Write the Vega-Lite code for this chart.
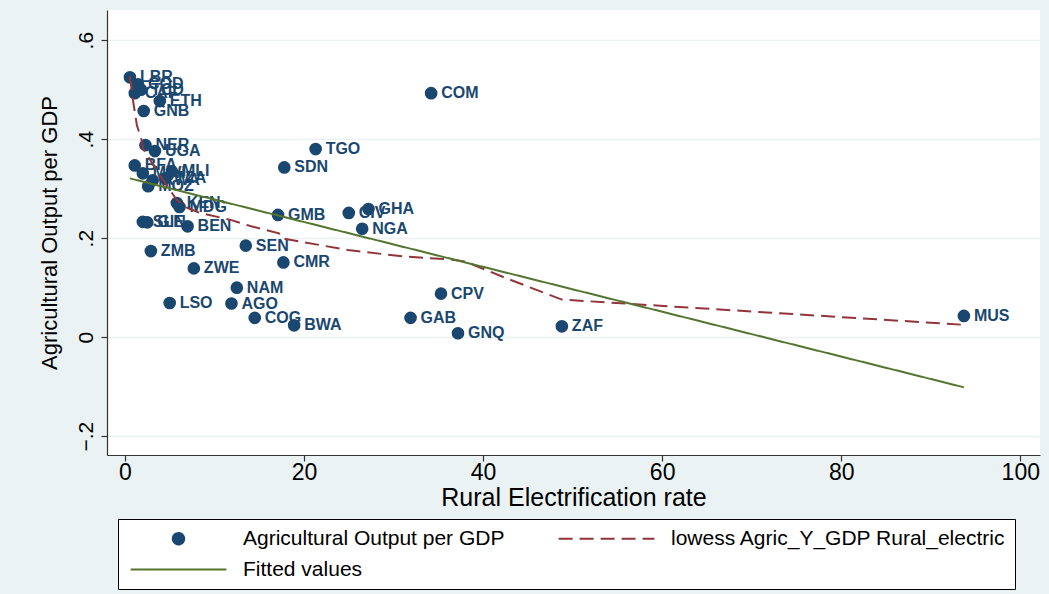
{
  "$schema": "https://vega.github.io/schema/vega-lite/v6.json",
  "width": 933,
  "height": 445,
  "autosize": "none",
  "padding": {"left": 107, "top": 10, "right": 9, "bottom": 139},
  "background": "#eaf2f3",
  "config": {
    "view": {"fill": "white", "stroke": null},
    "font": "Liberation Sans",
    "axis": {"domainColor": "#333333", "tickColor": "#333333", "labelColor": "#000000", "titleColor": "#000000", "titleFontWeight": "normal", "domainWidth": 1.2, "tickWidth": 1.2},
    "legend": {
      "orient": "none", "legendX": 11, "legendY": 509, "direction": "horizontal", "columns": 2,
      "fillColor": "white", "strokeColor": "#000000", "padding": 9,
      "symbolSize": 130, "symbolStrokeWidth": 2, "symbolOffset": 41, "labelFontSize": 21, "labelLimit": 500,
      "labelOffset": 54, "columnPadding": 43, "rowPadding": 9, "labelColor": "#000000", "symbolOpacity": 1
    }
  },
  "datasets": {
    "pts": [
      {"code": "LBR", "rural": 0.56, "agri": 0.525, "series": "Agricultural Output per  GDP"},
      {"code": "COD", "rural": 1.45, "agri": 0.511, "series": "Agricultural Output per  GDP"},
      {"code": "TCD", "rural": 1.8, "agri": 0.5, "series": "Agricultural Output per  GDP"},
      {"code": "CAF", "rural": 1.1, "agri": 0.493, "series": "Agricultural Output per  GDP"},
      {"code": "ETH", "rural": 3.9, "agri": 0.477, "series": "Agricultural Output per  GDP"},
      {"code": "GNB", "rural": 2.1, "agri": 0.457, "series": "Agricultural Output per  GDP"},
      {"code": "COM", "rural": 34.2, "agri": 0.493, "series": "Agricultural Output per  GDP"},
      {"code": "NER", "rural": 2.3, "agri": 0.388, "series": "Agricultural Output per  GDP"},
      {"code": "UGA", "rural": 3.35, "agri": 0.376, "series": "Agricultural Output per  GDP"},
      {"code": "TGO", "rural": 21.3, "agri": 0.38, "series": "Agricultural Output per  GDP"},
      {"code": "SDN", "rural": 17.8, "agri": 0.343, "series": "Agricultural Output per  GDP"},
      {"code": "BFA", "rural": 1.1, "agri": 0.347, "series": "Agricultural Output per  GDP"},
      {"code": "MWI", "rural": 2.0, "agri": 0.331, "series": "Agricultural Output per  GDP"},
      {"code": "MLI", "rural": 5.25, "agri": 0.335, "series": "Agricultural Output per  GDP"},
      {"code": "TZA", "rural": 4.5, "agri": 0.321, "series": "Agricultural Output per  GDP"},
      {"code": "RWA", "rural": 3.1, "agri": 0.317, "series": "Agricultural Output per  GDP"},
      {"code": "MOZ", "rural": 2.6, "agri": 0.305, "series": "Agricultural Output per  GDP"},
      {"code": "KEN", "rural": 5.8, "agri": 0.271, "series": "Agricultural Output per  GDP"},
      {"code": "MDG", "rural": 6.1, "agri": 0.263, "series": "Agricultural Output per  GDP"},
      {"code": "SLE", "rural": 2.0, "agri": 0.233, "series": "Agricultural Output per  GDP"},
      {"code": "GIN", "rural": 2.5, "agri": 0.232, "series": "Agricultural Output per  GDP"},
      {"code": "BEN", "rural": 7.0, "agri": 0.224, "series": "Agricultural Output per  GDP"},
      {"code": "GMB", "rural": 17.1, "agri": 0.247, "series": "Agricultural Output per  GDP"},
      {"code": "CIV", "rural": 25.0, "agri": 0.251, "series": "Agricultural Output per  GDP"},
      {"code": "GHA", "rural": 27.2, "agri": 0.259, "series": "Agricultural Output per  GDP"},
      {"code": "NGA", "rural": 26.5, "agri": 0.219, "series": "Agricultural Output per  GDP"},
      {"code": "SEN", "rural": 13.5, "agri": 0.185, "series": "Agricultural Output per  GDP"},
      {"code": "ZMB", "rural": 2.9, "agri": 0.174, "series": "Agricultural Output per  GDP"},
      {"code": "CMR", "rural": 17.7, "agri": 0.151, "series": "Agricultural Output per  GDP"},
      {"code": "ZWE", "rural": 7.7, "agri": 0.139, "series": "Agricultural Output per  GDP"},
      {"code": "NAM", "rural": 12.5, "agri": 0.1, "series": "Agricultural Output per  GDP"},
      {"code": "AGO", "rural": 11.9, "agri": 0.068, "series": "Agricultural Output per  GDP"},
      {"code": "LSO", "rural": 5.0, "agri": 0.069, "series": "Agricultural Output per  GDP"},
      {"code": "COG", "rural": 14.5, "agri": 0.039, "series": "Agricultural Output per  GDP"},
      {"code": "BWA", "rural": 18.9, "agri": 0.024, "series": "Agricultural Output per  GDP"},
      {"code": "CPV", "rural": 35.3, "agri": 0.088, "series": "Agricultural Output per  GDP"},
      {"code": "GAB", "rural": 31.9, "agri": 0.039, "series": "Agricultural Output per  GDP"},
      {"code": "GNQ", "rural": 37.2, "agri": 0.008, "series": "Agricultural Output per  GDP"},
      {"code": "ZAF", "rural": 48.8, "agri": 0.022, "series": "Agricultural Output per  GDP"},
      {"code": "MUS", "rural": 93.7, "agri": 0.043, "series": "Agricultural Output per  GDP"}
    ],
    "lowess": [
      {"rural": 0.56, "agri": 0.527, "series": "lowess Agric_Y_GDP Rural_electric"},
      {"rural": 0.9, "agri": 0.479, "series": "lowess Agric_Y_GDP Rural_electric"},
      {"rural": 1.34, "agri": 0.428, "series": "lowess Agric_Y_GDP Rural_electric"},
      {"rural": 1.87, "agri": 0.398, "series": "lowess Agric_Y_GDP Rural_electric"},
      {"rural": 2.0, "agri": 0.382, "series": "lowess Agric_Y_GDP Rural_electric"},
      {"rural": 3.9, "agri": 0.327, "series": "lowess Agric_Y_GDP Rural_electric"},
      {"rural": 5.8, "agri": 0.277, "series": "lowess Agric_Y_GDP Rural_electric"},
      {"rural": 7.0, "agri": 0.261, "series": "lowess Agric_Y_GDP Rural_electric"},
      {"rural": 8.4, "agri": 0.251, "series": "lowess Agric_Y_GDP Rural_electric"},
      {"rural": 11.8, "agri": 0.237, "series": "lowess Agric_Y_GDP Rural_electric"},
      {"rural": 14.1, "agri": 0.224, "series": "lowess Agric_Y_GDP Rural_electric"},
      {"rural": 17.2, "agri": 0.21, "series": "lowess Agric_Y_GDP Rural_electric"},
      {"rural": 17.5, "agri": 0.2, "series": "lowess Agric_Y_GDP Rural_electric"},
      {"rural": 24.9, "agri": 0.176, "series": "lowess Agric_Y_GDP Rural_electric"},
      {"rural": 31.2, "agri": 0.163, "series": "lowess Agric_Y_GDP Rural_electric"},
      {"rural": 36.3, "agri": 0.157, "series": "lowess Agric_Y_GDP Rural_electric"},
      {"rural": 38.0, "agri": 0.153, "series": "lowess Agric_Y_GDP Rural_electric"},
      {"rural": 42.6, "agri": 0.119, "series": "lowess Agric_Y_GDP Rural_electric"},
      {"rural": 48.8, "agri": 0.076, "series": "lowess Agric_Y_GDP Rural_electric"},
      {"rural": 93.7, "agri": 0.025, "series": "lowess Agric_Y_GDP Rural_electric"}
    ],
    "fit": [
      {"rural": 0.56, "agri": 0.3208, "series": "Fitted values"},
      {"rural": 93.7, "agri": -0.1012, "series": "Fitted values"}
    ]
  },
  "encoding": {
    "x": {
      "field": "rural", "type": "quantitative",
      "scale": {"domain": [-2.0, 102.2], "nice": false, "zero": false},
      "axis": {"title": "Rural Electrification rate", "values": [0, 20, 40, 60, 80, 100], "grid": false, "labelFontSize": 23, "titleFontSize": 25, "tickSize": 6, "labelPadding": 0, "titlePadding": 1, "labelFlush": false}
    },
    "y": {
      "field": "agri", "type": "quantitative",
      "scale": {"domain": [-0.238, 0.661], "nice": false, "zero": false},
      "axis": {"title": "Agricultural Output per GDP", "values": [-0.2, 0, 0.2, 0.4, 0.6], "grid": true, "gridColor": "#eaf2f3", "gridWidth": 1.5, "labelAngle": 270, "labelAlign": "center", "labelBaseline": "bottom", "labelFontSize": 21, "titleFontSize": 22, "tickSize": 6, "labelPadding": 5, "titlePadding": 14, "labelFlush": false,
        "labelExpr": "datum.value == 0 ? '0' : replace(format(datum.value, '.1f'), '0.', '.')"}
    }
  },
  "layer": [
    {
      "data": {"name": "pts"},
      "mark": {"type": "point", "filled": true, "size": 160, "opacity": 1},
      "encoding": {
        "color": {
          "field": "series", "type": "nominal",
          "scale": {"domain": ["Agricultural Output per  GDP", "lowess Agric_Y_GDP Rural_electric", "Fitted values"], "range": ["#1a476f", "#90353b", "#55752f"]},
          "legend": {"title": null}
        },
        "shape": {
          "field": "series", "type": "nominal",
          "scale": {"domain": ["Agricultural Output per  GDP", "lowess Agric_Y_GDP Rural_electric", "Fitted values"], "range": ["circle", "M-8.4,0H8.4", "M-8.4,0H8.4"]},
          "legend": {"title": null}
        }
      }
    },
    {
      "data": {"name": "pts"},
      "mark": {"type": "text", "align": "left", "baseline": "middle", "dx": 10, "fontWeight": "bold", "fontSize": 16, "color": "#1a476f"},
      "encoding": {"text": {"field": "code", "type": "nominal"}}
    },
    {
      "data": {"name": "lowess"},
      "mark": {"type": "line", "strokeWidth": 2},
      "encoding": {
        "color": {"field": "series", "type": "nominal", "legend": {"title": null}},
        "strokeDash": {
          "field": "series", "type": "nominal",
          "scale": {"domain": ["Agricultural Output per  GDP", "lowess Agric_Y_GDP Rural_electric", "Fitted values"], "range": [[1, 0], [14, 7], [1, 0]]},
          "legend": {"title": null}
        }
      }
    },
    {
      "data": {"name": "fit"},
      "mark": {"type": "line", "strokeWidth": 2},
      "encoding": {
        "color": {"field": "series", "type": "nominal", "legend": {"title": null}},
        "strokeDash": {"field": "series", "type": "nominal", "legend": {"title": null}}
      }
    }
  ]
}
